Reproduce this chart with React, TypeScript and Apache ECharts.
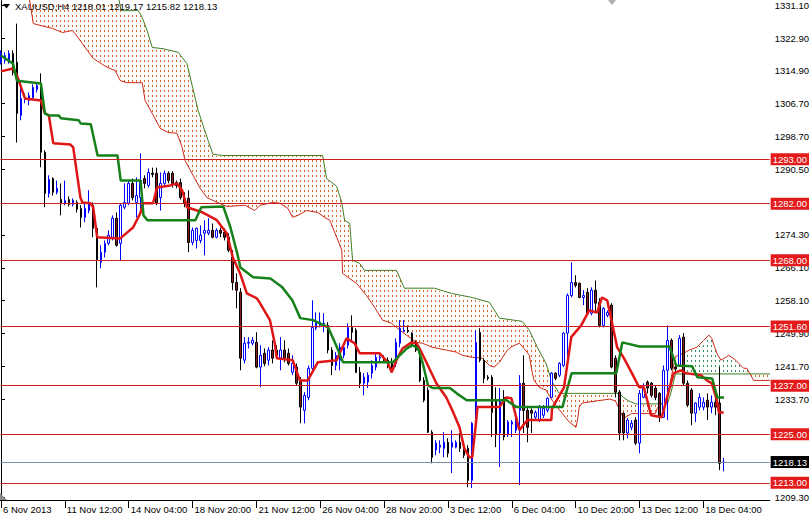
import React, { useEffect, useRef } from 'react';
import * as echarts from 'echarts';

// ---------- DATA ----------
const title = 'XAUUSD,H4 1218.01 1219.17 1215.82 1218.13';

// H4 bars: [open, close, low, high]
const ohlc: number[][] = [
  [1316.9,1319.1,1316.4,1319.9],[1317.4,1318.6,1316.6,1319.4],[1317.4,1319.1,1316.6,1319.9],[1319.1,1314.4,1313.7,1319.9],
  [1316.9,1304.3,1297.1,1326.5],[1303.8,1308.0,1302.6,1312.4],[1307.8,1308.2,1306.8,1309.2],[1307.5,1308.7,1306.3,1309.5],
  [1308.2,1310.7,1307.5,1311.5],[1310.2,1311.2,1309.5,1311.9],[1311.5,1294.7,1291.0,1314.2],[1294.7,1284.5,1281.1,1295.2],
  [1284.5,1288.0,1283.5,1289.0],[1288.2,1284.8,1284.0,1288.5],[1284.8,1285.8,1284.3,1287.7],[1283.0,1282.1,1279.1,1287.0],
  [1282.1,1282.8,1281.6,1287.7],[1283.0,1281.8,1281.3,1283.8],[1281.8,1282.8,1281.3,1283.3],[1282.3,1280.6,1279.8,1282.8],
  [1280.8,1278.6,1276.1,1281.6],[1278.6,1280.8,1277.4,1282.3],[1280.3,1282.1,1279.6,1285.3],[1281.6,1275.9,1273.7,1282.3],
  [1275.9,1268.0,1261.3,1276.4],[1267.5,1270.0,1266.0,1271.7],[1270.0,1272.2,1268.7,1272.9],[1272.2,1274.2,1271.7,1275.4],
  [1273.4,1278.4,1272.9,1279.1],[1278.4,1271.7,1271.4,1279.8],[1272.2,1281.6,1268.0,1282.1],[1281.1,1282.3,1280.6,1287.0],
  [1282.1,1287.0,1281.6,1287.7],[1287.0,1283.5,1282.8,1288.2],[1282.3,1284.0,1278.6,1288.5],[1283.5,1287.7,1280.8,1294.4],
  [1288.2,1287.0,1285.8,1289.0],[1286.5,1289.7,1286.0,1290.7],[1289.5,1289.2,1288.5,1290.9],[1289.5,1282.1,1281.6,1290.9],
  [1283.5,1287.0,1280.3,1289.7],[1287.0,1289.5,1286.5,1290.2],[1289.5,1287.7,1287.0,1290.0],[1289.5,1287.0,1286.0,1290.0],
  [1287.2,1286.5,1285.8,1287.7],[1287.2,1283.5,1283.0,1288.2],[1283.3,1282.1,1281.1,1284.8],[1283.3,1272.4,1270.0,1285.3],
  [1272.4,1275.4,1271.7,1276.1],[1272.9,1275.9,1270.9,1276.1],[1272.9,1274.2,1272.2,1276.6],[1274.7,1275.4,1269.2,1277.9],
  [1274.7,1275.4,1274.2,1278.4],[1275.4,1273.7,1273.4,1277.1],[1273.7,1275.4,1273.4,1275.9],[1275.4,1274.7,1273.7,1276.1],
  [1274.9,1273.7,1272.9,1275.9],[1273.7,1270.5,1270.0,1274.7],[1268.7,1262.5,1260.6,1270.5],[1262.5,1260.6,1256.1,1264.8],
  [1260.1,1243.8,1240.8,1261.1],[1243.3,1247.5,1242.5,1249.0],[1247.5,1247.7,1246.2,1249.0],[1247.5,1248.2,1247.0,1249.0],
  [1247.7,1241.6,1241.3,1250.2],[1241.6,1244.5,1236.6,1247.0],[1245.0,1242.5,1241.8,1246.2],[1243.3,1245.8,1242.0,1246.5],
  [1245.8,1243.8,1242.5,1248.2],[1245.8,1244.5,1243.8,1247.0],[1243.8,1245.8,1240.8,1249.0],[1245.8,1243.8,1242.8,1248.2],
  [1245.0,1242.5,1242.0,1246.2],[1240.3,1242.5,1239.6,1244.5],[1241.6,1237.6,1237.1,1242.5],[1238.3,1231.7,1227.7,1239.1],
  [1230.9,1234.6,1227.7,1235.4],[1234.1,1241.3,1233.4,1242.0],[1241.3,1251.4,1240.3,1258.1],[1251.2,1252.7,1250.7,1255.1],
  [1251.9,1252.7,1251.4,1255.1],[1252.2,1252.4,1250.2,1254.9],[1251.9,1245.8,1245.0,1252.7],[1245.8,1242.0,1239.6,1246.5],
  [1242.0,1244.5,1240.8,1245.3],[1243.3,1246.5,1240.8,1247.5],[1244.5,1246.5,1243.8,1247.5],[1247.0,1251.4,1246.2,1252.4],
  [1251.4,1250.2,1248.2,1254.4],[1250.7,1240.3,1240.1,1251.2],[1240.3,1237.6,1236.4,1241.6],[1237.6,1239.1,1234.6,1240.1],
  [1237.9,1239.6,1236.4,1240.3],[1240.1,1242.0,1238.8,1243.3],[1241.6,1244.0,1240.8,1245.0],[1243.8,1244.0,1242.8,1244.5],
  [1243.5,1243.3,1242.8,1244.5],[1243.3,1242.0,1241.3,1244.0],[1242.8,1241.6,1240.3,1243.8],[1242.5,1247.7,1241.6,1248.7],
  [1247.5,1251.2,1246.5,1253.2],[1250.4,1250.7,1250.2,1253.2],[1250.7,1250.4,1250.0,1251.9],[1250.0,1247.5,1246.5,1250.2],
  [1247.7,1245.8,1245.3,1248.2],[1245.0,1238.3,1237.9,1245.8],[1238.3,1233.4,1232.9,1239.1],[1235.9,1225.5,1225.3,1236.6],
  [1225.5,1219.3,1217.8,1226.0],[1221.1,1222.8,1219.8,1223.5],[1221.8,1222.3,1220.3,1223.5],[1221.5,1223.0,1219.3,1225.5],
  [1223.0,1220.3,1219.3,1224.0],[1221.8,1223.0,1215.4,1226.0],[1221.8,1223.0,1221.5,1223.5],[1223.0,1221.5,1220.6,1225.3],
  [1221.8,1219.8,1219.1,1222.8],[1221.5,1213.6,1211.9,1222.3],[1213.6,1227.7,1211.7,1228.0],[1227.7,1247.7,1225.3,1250.7],
  [1250.2,1243.3,1242.8,1251.2],[1243.3,1238.8,1237.6,1243.8],[1239.1,1238.8,1238.3,1239.6],[1239.1,1230.4,1224.3,1239.6],
  [1233.4,1224.8,1221.8,1236.6],[1225.3,1233.4,1216.9,1236.4],[1234.1,1224.3,1223.5,1235.9],[1224.8,1228.0,1224.3,1228.5],
  [1227.5,1228.0,1224.3,1228.5],[1226.0,1228.5,1225.3,1229.7],[1230.9,1237.6,1212.4,1239.6],[1237.6,1230.9,1225.3,1244.5],
  [1230.9,1226.7,1223.0,1231.7],[1230.9,1230.2,1225.3,1231.4],[1229.2,1230.4,1228.5,1230.9],[1228.5,1231.7,1228.0,1232.2],
  [1229.7,1231.4,1229.0,1232.2],[1230.9,1233.9,1230.4,1234.1],[1234.1,1240.1,1233.9,1240.3],[1240.1,1238.8,1238.3,1240.3],
  [1239.6,1242.5,1239.1,1242.8],[1242.0,1250.0,1241.6,1250.2],[1250.0,1259.3,1242.0,1259.8],[1259.3,1262.5,1258.8,1267.5],
  [1262.5,1261.8,1261.3,1264.3],[1262.3,1258.8,1258.6,1262.5],[1258.8,1259.3,1256.9,1260.6],[1260.1,1254.9,1254.4,1261.1],
  [1254.9,1260.6,1254.4,1261.3],[1260.6,1257.4,1255.1,1263.0],[1257.6,1251.9,1251.4,1258.6],[1251.9,1256.1,1251.4,1256.4],
  [1254.4,1255.1,1253.9,1255.6],[1256.9,1241.6,1241.3,1257.4],[1243.8,1235.4,1234.1,1244.5],[1235.4,1225.3,1223.5,1235.9],
  [1230.2,1225.3,1223.5,1230.4],[1225.3,1228.5,1224.0,1229.0],[1226.7,1227.7,1226.0,1228.5],[1228.5,1222.8,1222.3,1229.2],
  [1222.8,1235.1,1220.3,1235.9],[1234.1,1236.6,1233.9,1237.6],[1237.9,1236.4,1235.1,1238.3],[1237.6,1234.6,1234.1,1237.9],
  [1236.4,1234.1,1233.4,1237.1],[1235.1,1229.2,1228.0,1235.4],[1229.2,1240.8,1229.0,1242.0],[1240.8,1248.2,1228.5,1251.9],
  [1248.2,1241.3,1240.8,1248.7],[1241.6,1241.1,1240.3,1242.5],[1242.0,1248.7,1241.6,1249.5],[1249.0,1237.6,1237.1,1250.0],
  [1237.6,1232.2,1231.7,1238.3],[1235.9,1230.2,1227.2,1236.4],[1230.2,1232.7,1228.0,1232.9],[1231.7,1234.1,1230.9,1235.1],
  [1231.7,1232.9,1230.9,1234.1],[1233.4,1231.7,1228.5,1235.1],[1231.7,1232.9,1230.2,1234.6],[1232.9,1231.7,1229.7,1235.1],
  [1232.7,1217.8,1216.1,1241.6],[1218.01,1218.13,1215.82,1219.17],
];

// Ichimoku lines as [bar index, price] vertices
const tenkan: number[][] = [
  [0,1314.7],[3,1315.4],[4,1313.7],[6,1308.0],[10,1307.5],[11,1304.3],[12,1303.8],[13.1,1296.9],[17.4,1296.6],[18.1,1295.9],
  [19.9,1283.5],[20.4,1282.3],[22.4,1282.1],[23.1,1281.1],[24.1,1273.7],[29.9,1273.4],[33.1,1276.1],[34.9,1279.6],[35.6,1282.1],
  [38.1,1282.1],[39.1,1286.0],[42.4,1286.5],[44.1,1287.0],[45.4,1285.3],[46.6,1281.1],[49.1,1280.3],[50.6,1279.8],[54.1,1277.9],
  [56.6,1274.6],[58.1,1268.7],[59.9,1264.8],[61.6,1259.8],[64.1,1258.6],[64.9,1257.4],[67.4,1253.2],[68.6,1247.5],[69.1,1243.8],
  [73.1,1243.3],[74.9,1238.3],[76.9,1238.3],[79.4,1242.8],[84.1,1243.3],[86.6,1248.7],[88.6,1247.5],[89.9,1245.0],[94.9,1245.0],
  [96.9,1242.8],[97.9,1240.3],[99.1,1243.3],[100.6,1246.2],[102.9,1247.7],[104.1,1247.5],[104.9,1246.2],[106.6,1242.8],
  [109.1,1237.6],[111.6,1234.1],[113.1,1230.9],[114.9,1226.7],[116.1,1221.5],[117.4,1219.3],[118.1,1219.3],[119.1,1228.5],
  [119.4,1231.7],[124.9,1231.7],[126.6,1234.1],[127.9,1233.9],[129.9,1226.0],[131.9,1228.5],[137.9,1228.5],[138.1,1231.4],
  [141.1,1236.6],[142.9,1249.0],[145.4,1251.9],[147.4,1255.6],[149.4,1255.1],[150.6,1258.8],[151.9,1258.1],[153.1,1252.7],
  [154.4,1246.5],[156.1,1243.8],[158.1,1240.1],[159.9,1236.6],[161.1,1236.6],[162.9,1229.7],[165.6,1229.2],[167.4,1235.9],
  [168.6,1240.1],[170.4,1240.8],[171.6,1240.1],[175.4,1239.6],[176.9,1238.3],[178.1,1237.6],[179.4,1233.4],[179.9,1230.4],
  [181.1,1230.4],
];

const kijun: number[][] = [
  [0,1318.6],[3,1316.6],[4,1312.4],[10,1311.7],[11,1304.3],[12,1303.8],[14.5,1303.8],[15,1303.1],[19.5,1302.6],[20,1301.8],
  [22.5,1301.6],[24.2,1293.9],[29.2,1293.9],[30,1287.7],[35,1287.7],[35.7,1279.1],[36.7,1277.9],[48.7,1277.9],[50.2,1281.1],
  [55.7,1281.3],[57.5,1276.1],[59.2,1269.7],[60,1266.2],[63.2,1263.8],[67.5,1263.5],[68.2,1263.0],[70.5,1261.3],[73,1258.1],
  [75,1253.7],[78.2,1253.2],[82,1251.4],[84.2,1246.5],[85.7,1242.8],[98.2,1242.8],[101.7,1246.2],[103.2,1247.0],[104.5,1246.2],
  [105.7,1242.5],[107,1237.1],[108.2,1236.4],[112.5,1236.4],[114.2,1235.1],[116.7,1233.4],[126.7,1233.4],[129.2,1231.7],
  [140.7,1231.7],[142,1236.6],[143,1240.1],[154.2,1240.1],[155.7,1247.7],[160,1246.7],[167.5,1246.7],[169.2,1242.0],
  [173.2,1241.8],[174.5,1239.1],[178.2,1238.8],[179.5,1234.1],[181.2,1234.1],
];

const spanA: number[][] = [
  [7,1333.4],[8.1,1326.5],[12.9,1325.3],[15.4,1324.3],[17.9,1324.8],[18.6,1324.0],[21.6,1319.9],[23.1,1317.9],[26.6,1315.7],
  [28.6,1314.9],[29.9,1312.4],[31.6,1311.9],[35.4,1311.9],[36.1,1307.5],[37.9,1304.3],[39.9,1300.6],[41.9,1299.6],[44.1,1299.4],
  [45.4,1295.9],[46.1,1292.7],[49.9,1285.8],[51.6,1283.5],[53.1,1282.8],[56.6,1281.3],[61.1,1281.6],[63.6,1280.3],[64.9,1281.6],
  [68.1,1282.3],[69.9,1282.1],[71.9,1280.8],[73.1,1278.6],[74.4,1279.1],[76.6,1280.3],[79.4,1279.8],[81.1,1278.6],[82.4,1277.9],
  [84.1,1273.7],[85.4,1270.5],[85.6,1264.8],[86.9,1263.8],[89.1,1262.3],[91.6,1259.3],[93.6,1256.4],[95.6,1253.2],[97.9,1252.4],
  [99.1,1251.4],[101.6,1249.5],[104.1,1247.7],[105.6,1247.5],[108.1,1246.5],[111.6,1245.8],[114.1,1245.3],[115.6,1244.5],
  [118.1,1244.0],[120.6,1243.8],[122.4,1242.0],[123.6,1241.6],[124.9,1242.8],[126.9,1245.8],[128.1,1246.7],[129.9,1247.5],
  [131.1,1246.2],[132.4,1244.5],[133.1,1240.3],[133.6,1238.3],[134.9,1236.6],[136.6,1235.9],[138.1,1233.4],[140.6,1230.2],
  [142.4,1228.0],[144.1,1226.7],[144.6,1229.2],[144.9,1231.7],[145.6,1232.7],[152.6,1233.7],[154,1233.2],[156,1228.9],
  [158,1230.1],[164,1230.1],[164.5,1231.5],[167,1234.2],[169,1244.2],[171.1,1245.0],[172.4,1245.8],[174.4,1246.5],[176.1,1248.2],
  [177.4,1249.5],[178.1,1248.7],[179.4,1245.0],[180.4,1243.3],[181.6,1244.0],[182.4,1244.5],[184.1,1243.3],[184.9,1242.5],
  [186.1,1241.3],[186.9,1241.3],[187.9,1239.6],[188.6,1238.3],[192.7,1238.3],
];

const spanB: number[][] = [
  [0,1342.1],[29.5,1332.7],[30.1,1329.7],[34.4,1329.7],[35.4,1328.0],[36.6,1324.8],[37.9,1320.6],[40.6,1320.3],[44.4,1319.4],
  [46.6,1316.6],[49.4,1305.0],[51.9,1297.6],[53.1,1294.2],[55.6,1293.9],[80.6,1293.9],[81.6,1288.2],[84.1,1286.3],[85.4,1282.3],
  [86.1,1277.9],[87.4,1277.1],[88.1,1268.0],[89.9,1267.2],[91.1,1265.5],[99.1,1265.5],[101.1,1261.1],[108.6,1261.1],
  [112.9,1259.8],[118.1,1258.8],[122.4,1257.6],[124.9,1253.7],[130.6,1252.9],[132.4,1250.7],[134.4,1246.5],[136.6,1242.5],
  [137.9,1238.3],[139.9,1235.1],[155,1235.1],[156,1234.1],[157,1233.4],[159,1232.5],[167,1232.5],[168,1235.7],[169,1239.9],
  [192.7,1239.9],
];

const levels = [1293.0, 1282.0, 1268.0, 1251.6, 1237.0, 1225.0, 1213.0];
const lastPrice = 1218.13;

const yTicks = [1331.1, 1322.9, 1314.9, 1306.7, 1298.7, 1290.5, 1274.3, 1266.1, 1258.1, 1249.9, 1241.7, 1233.7, 1209.3];
const xTickIdx = [0, 16, 32, 48, 64, 80, 96, 112, 128, 144, 160, 176];
const xTickText = ['6 Nov 2013', '11 Nov 12:00', '14 Nov 04:00', '18 Nov 20:00', '21 Nov 12:00', '26 Nov 04:00',
  '28 Nov 20:00', '3 Dec 12:00', '6 Dec 04:00', '10 Dec 20:00', '13 Dec 12:00', '18 Dec 04:00'];

// ---------- LAYOUT / STYLE ----------
const X_MIN = -0.125, X_MAX = 192.625;
const Y_MIN = 1208.74, Y_MAX = 1332.2;
const CLOUD_BARS = 193;
const FONT = '"Liberation Sans", Arial, sans-serif';

function lineAt(pts: number[][], x: number): number | null {
  if (x < pts[0][0] || x > pts[pts.length - 1][0]) return null;
  for (let j = 1; j < pts.length; j++) {
    if (x <= pts[j][0]) {
      const [x0, y0] = pts[j - 1];
      const [x1, y1] = pts[j];
      return x1 === x0 ? y1 : y0 + ((y1 - y0) * (x - x0)) / (x1 - x0);
    }
  }
  return null;
}

export default function App() {
  const ref = useRef<HTMLDivElement>(null);
  useEffect(() => {
    if (!ref.current) return;
    const chart = echarts.init(ref.current, undefined, { renderer: 'svg' });
    const candles = ohlc.map((r, i) => [i, r[0], r[1], r[2], r[3]]);
    const cloudIdx = Array.from({ length: CLOUD_BARS }, (_, k) => [k, Y_MIN]);
    const levelMarks: any[] = levels.map((v) => ({
      yAxis: v,
      lineStyle: { color: '#cc1f1f', width: 1, type: 'solid' },
      label: { backgroundColor: '#e41b1b' },
    }));
    levelMarks.push({
      yAxis: lastPrice,
      lineStyle: { color: '#7d8ea3', width: 1, type: 'solid' },
      label: { backgroundColor: '#000000' },
    });

    const option: any = {
      animation: false,
      backgroundColor: '#ffffff',
      grid: { left: 0, top: 0, right: 41, bottom: 17, containLabel: false },
      xAxis: {
        type: 'value',
        min: X_MIN,
        max: X_MAX,
        splitLine: { show: false },
        axisLine: { show: true, onZero: false, lineStyle: { color: '#000', width: 1 } },
        axisTick: { show: true, length: 8, customValues: xTickIdx, lineStyle: { color: '#000' } },
        axisLabel: {
          customValues: xTickIdx,
          formatter: (v: number) => {
            const k = xTickIdx.indexOf(Math.round(v));
            return k >= 0 ? xTickText[k] : '';
          },
          align: 'left',
          padding: [0, 0, 0, 2],
          margin: 4,
          color: '#000',
          fontSize: 9.5,
          fontFamily: FONT,
        },
      },
      yAxis: {
        type: 'value',
        position: 'right',
        min: Y_MIN,
        max: Y_MAX,
        splitLine: { show: false },
        axisLine: { show: true, lineStyle: { color: '#000', width: 1 } },
        axisTick: { show: true, length: 4, customValues: yTicks, lineStyle: { color: '#000' } },
        axisLabel: {
          customValues: yTicks,
          formatter: (v: number) => v.toFixed(2),
          color: '#000',
          fontSize: 9.5,
          fontFamily: FONT,
          margin: 5,
        },
      },
      graphic: [
        { type: 'polygon', shape: { points: [[3, 4], [10, 4], [6.5, 8.5]] }, style: { fill: '#000' }, z: 100 },
        { type: 'text', x: 15, y: 1, style: { text: title, font: `9.5px ${FONT}`, fill: '#000' }, z: 100 },
        { type: 'polygon', shape: { points: [[0, 493], [0, 500], [7, 500]] }, style: { fill: '#8a8a8a' }, z: 100 },
        { type: 'polygon', shape: { points: [[608, 0], [616, 0], [612, 5]] }, style: { fill: '#b0b0b0' }, z: 100 },
      ],
      series: [
        {
          type: 'custom',
          name: 'cloud',
          silent: true,
          clip: true,
          z: 1,
          data: cloudIdx,
          encode: { x: 0, y: 1 },
          renderItem: (params: any, api: any) => {
            const k = api.value(0);
            const a = lineAt(spanA, k);
            const b = lineAt(spanB, k);
            if (a == null || b == null) return null;
            const cs = params.coordSys;
            const pa = api.coord([k, a]);
            const pb = api.coord([k, b]);
            let top = Math.max(Math.min(pa[1], pb[1]), cs.y);
            let bot = Math.min(Math.max(pa[1], pb[1]), cs.y + cs.height);
            top = Math.round(top) + 1;
            bot = Math.round(bot);
            if (bot - top < 1) return null;
            const x = Math.round(pa[0] - 0.5) + 0.5;
            return {
              type: 'line',
              shape: { x1: x, y1: top, x2: x, y2: bot },
              style: {
                stroke: a > b ? '#2f9460' : '#db6222',
                lineWidth: 1,
                lineDash: [2, 3],
                lineDashOffset: ((top % 5) + 5) % 5,
              },
            };
          },
        },
        {
          type: 'line', name: 'Senkou A', data: spanA, showSymbol: false, silent: true, z: 2,
          lineStyle: { color: '#cc2a1a', width: 1 },
        },
        {
          type: 'line', name: 'Senkou B', data: spanB, showSymbol: false, silent: true, z: 2,
          lineStyle: { color: '#3f7d20', width: 1 },
        },
        {
          type: 'candlestick',
          name: 'XAUUSD',
          data: candles,
          encode: { x: 0, y: [1, 2, 3, 4] },
          barWidth: 2,
          silent: true,
          z: 3,
          itemStyle: {
            color: '#ffffff',
            color0: '#8b1a1a',
            borderColor: '#0000ff',
            borderColor0: '#000000',
            borderWidth: 1,
          },
        },
        {
          type: 'line', name: 'Tenkan', data: tenkan, showSymbol: false, silent: true, z: 4,
          lineStyle: { color: '#e01515', width: 2.5 },
        },
        {
          type: 'line', name: 'Kijun', data: kijun, showSymbol: false, silent: true, z: 4,
          lineStyle: { color: '#16801a', width: 2.5 },
          markLine: {
            silent: true,
            symbol: ['none', 'none'],
            animation: false,
            label: {
              show: true,
              position: 'end',
              distance: 1,
              formatter: (p: any) => Number(p.value).toFixed(2),
              color: '#ffffff',
              fontSize: 9.5,
              fontFamily: FONT,
              lineHeight: 10,
              padding: [1, 2, 1, 2],
            },
            data: levelMarks,
          },
        },
      ],
    };
    chart.setOption(option);
    return () => chart.dispose();
  }, []);

  return (
    <div
      ref={ref}
      style={{ position: 'fixed', left: 0, top: 0, width: 812, height: 517, background: '#fff' }}
    />
  );
}
